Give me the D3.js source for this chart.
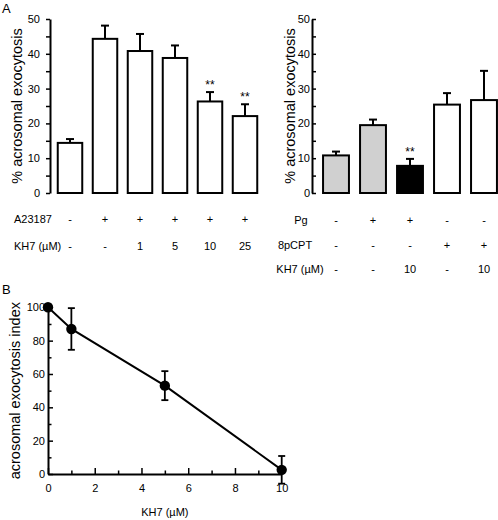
<!DOCTYPE html>
<html>
<head>
<meta charset="utf-8">
<script src="https://cdn.jsdelivr.net/npm/d3@7"></script>
<style>
  html, body { margin: 0; padding: 0; background: #fff; }
  svg { display: block; }
  .sm { font-family: "Liberation Sans Narrow", "Arial Narrow", "Liberation Sans", Arial, sans-serif; font-size: 11px; fill: #000; }
  .ttl { font-family: "Liberation Sans", Arial, sans-serif; font-size: 14.5px; fill: #000; }
  .pl { font-family: "Liberation Sans", Arial, sans-serif; font-size: 13px; fill: #000; }
</style>
</head>
<body>
<script>
// ---- Panel A (left) data ----
const leftBars = ["c1", "c2", "c3", "c4", "c5", "c6"];
const leftValues = [14.4, 44.3, 40.8, 38.8, 26.3, 22.1];
const leftErrors = [1.1, 3.8, 4.9, 3.6, 2.7, 3.4];
const leftA23187 = ["-", "+", "+", "+", "+", "+"];
const leftKH7 = ["-", "-", "1", "5", "10", "25"];
const leftSig = ["", "", "", "", "**", "**"];

// ---- Panel A (right) data ----
const rightBars = ["d1", "d2", "d3", "d4", "d5"];
const rightValues = [10.8, 19.5, 7.8, 25.4, 26.7];
const rightErrors = [1.1, 1.6, 2.0, 3.3, 8.4];
const rightGroup = ["grey", "grey", "black", "white", "white"];
const rightPg = ["-", "+", "+", "-", "-"];
const right8pCPT = ["-", "-", "-", "+", "+"];
const rightKH7 = ["-", "-", "10", "-", "10"];
const rightSig = ["", "", "**", "", ""];

const yTicksA = [0, 5, 10, 15, 20, 25, 30, 35, 40, 45, 50];

// ---- Panel B data ----
const kh7Conc = [0, 1, 5, 10];
const indexValues = [100, 87, 53, 2.5];
const indexErrors = [0, 12.5, 8.7, 8.3];
const xTicksB = [0, 1, 2, 3, 4, 5, 6, 7, 8, 9, 10];
const yTicksB = [0, 10, 20, 30, 40, 50, 60, 70, 80, 90, 100];

const fillColor = { grey: "#d0d0d0", black: "#000000", white: "#ffffff" };

const svg = d3.select("body").append("svg").attr("width", 498).attr("height", 520);

// Panel letters
svg.append("text").attr("class", "pl").attr("x", 2).attr("y", 13).text("A");
svg.append("text").attr("class", "pl").attr("x", 2).attr("y", 294).text("B");

function styleAxis(g) {
  g.select(".domain").attr("stroke", "#000").attr("stroke-width", 2);
  g.selectAll(".tick line").attr("stroke", "#000").attr("stroke-width", 1.5);
  g.selectAll(".tick text").attr("class", "sm").attr("fill", "#000").style("font-size", null).style("font-family", null);
  g.attr("font-size", null).attr("font-family", null);
}

function barPanel(opts) {
  const x = d3.scaleBand().domain(opts.cats).range(opts.xr).paddingInner(0.3).paddingOuter(0.15);
  const y = d3.scaleLinear().domain([0, 50]).range([193, 19]);
  const g = svg.append("g");
  // axis
  const ax = d3.axisLeft(y).tickValues(yTicksA)
    .tickFormat(d => d % 10 === 0 ? d : "")
    .tickSizeOuter(0).tickSizeInner(opts.tickIn).tickPadding(opts.pad);
  const ag = g.append("g").attr("transform", `translate(${opts.axisX},0)`).call(ax);
  styleAxis(ag);
  // bars
  opts.cats.forEach((c, i) => {
    const v = opts.values[i], e = opts.errors[i];
    const cx = x(c) + x.bandwidth() / 2;
    g.append("line").attr("x1", cx).attr("x2", cx).attr("y1", y(v)).attr("y2", y(v + e))
      .attr("stroke", "#000").attr("stroke-width", 2);
    g.append("line").attr("x1", cx - 4).attr("x2", cx + 4).attr("y1", y(v + e)).attr("y2", y(v + e))
      .attr("stroke", "#000").attr("stroke-width", 2);
    g.append("rect").attr("x", x(c)).attr("y", y(v)).attr("width", x.bandwidth()).attr("height", y(0) - y(v))
      .attr("fill", opts.fills[i]).attr("stroke", "#000").attr("stroke-width", 2);
    if (opts.sig[i]) {
      g.append("text").attr("class", "sm").attr("x", cx).attr("y", y(v + e) - 3)
        .attr("text-anchor", "middle").style("font-size", "12px").text(opts.sig[i]);
    }
  });
  // rows of conditions
  opts.rows.forEach(r => {
    r.vals.forEach((t, i) => {
      const cx = x(opts.cats[i]) + x.bandwidth() / 2;
      g.append("text").attr("class", "sm").attr("x", cx).attr("y", r.y)
        .attr("text-anchor", "middle").text(t);
    });
    g.append("text").attr("class", "sm").attr("x", r.lx).attr("y", r.y)
      .attr("text-anchor", r.anchor).text(r.label);
  });
  // y title
  svg.append("text").attr("class", "ttl")
    .attr("transform", `translate(${opts.titleX},${y(25)}) rotate(-90)`)
    .attr("text-anchor", "middle").text("% acrosomal exocytosis");
}

barPanel({
  cats: leftBars, values: leftValues, errors: leftErrors,
  fills: leftBars.map(() => "#fff"), sig: leftSig,
  xr: [52.5, 262.5], axisX: 50, tickIn: 4, pad: 6, titleX: 22,
  rows: [
    { label: "A23187", vals: leftA23187, y: 223, lx: 14, anchor: "start" },
    { label: "KH7 (\u00b5M)", vals: leftKH7, y: 250, lx: 14, anchor: "start" }
  ]
});

barPanel({
  cats: rightBars, values: rightValues, errors: rightErrors,
  fills: rightGroup.map(k => fillColor[k]), sig: rightSig,
  xr: [317.5, 502.5], axisX: 312, tickIn: -4, pad: 2, titleX: 295,
  rows: [
    { label: "Pg", vals: rightPg, y: 224, lx: 301, anchor: "middle" },
    { label: "8pCPT", vals: right8pCPT, y: 249, lx: 295, anchor: "middle" },
    { label: "KH7 (\u00b5M)", vals: rightKH7, y: 273, lx: 300, anchor: "middle" }
  ]
});

// ---- Panel B ----
const xB = d3.scaleLinear().domain([0, 10]).range([48, 281.7]);
const yB = d3.scaleLinear().domain([0, 100]).range([474, 307.3]);
const gB = svg.append("g");

const xAxB = d3.axisBottom(xB).tickValues(xTicksB)
  .tickFormat(d => d % 2 === 0 ? d : "")
  .tickSizeOuter(0).tickSizeInner(-6).tickPadding(10);
const xg = gB.append("g").attr("transform", `translate(0,${yB(0)})`).call(xAxB);
styleAxis(xg);
xg.selectAll(".tick line").attr("y2", d => d % 2 === 0 ? -6 : -3.5);

const yAxB = d3.axisLeft(yB).tickValues(yTicksB)
  .tickFormat(d => d % 20 === 0 ? d : "")
  .tickSizeOuter(0).tickSizeInner(-5).tickPadding(3);
const yg = gB.append("g").attr("transform", `translate(${xB(0)},0)`).call(yAxB);
styleAxis(yg);
yg.selectAll(".tick line").attr("x2", d => d % 20 === 0 ? 5 : 3.5);

const line = d3.line().x((d, i) => xB(kh7Conc[i])).y(d => yB(d));
gB.append("path").datum(indexValues).attr("d", line)
  .attr("fill", "none").attr("stroke", "#000").attr("stroke-width", 2);

kh7Conc.forEach((c, i) => {
  const v = indexValues[i], e = indexErrors[i];
  const cx = xB(c);
  if (e > 0) {
    gB.append("line").attr("x1", cx).attr("x2", cx).attr("y1", yB(v - e)).attr("y2", yB(v + e))
      .attr("stroke", "#000").attr("stroke-width", 1.8);
    [v - e, v + e].forEach(t => {
      gB.append("line").attr("x1", cx - 3.5).attr("x2", cx + 3.5).attr("y1", yB(t)).attr("y2", yB(t))
        .attr("stroke", "#000").attr("stroke-width", 1.8);
    });
  }
  gB.append("circle").attr("cx", cx).attr("cy", yB(v)).attr("r", 5.2).attr("fill", "#000");
});

svg.append("text").attr("class", "ttl")
  .attr("transform", `translate(20,${yB(50)}) rotate(-90)`)
  .attr("text-anchor", "middle").text("acrosomal exocytosis index");
svg.append("text").attr("class", "sm").attr("x", xB(5)).attr("y", 516)
  .attr("text-anchor", "middle").text("KH7 (\u00b5M)");
</script>
</body>
</html>
